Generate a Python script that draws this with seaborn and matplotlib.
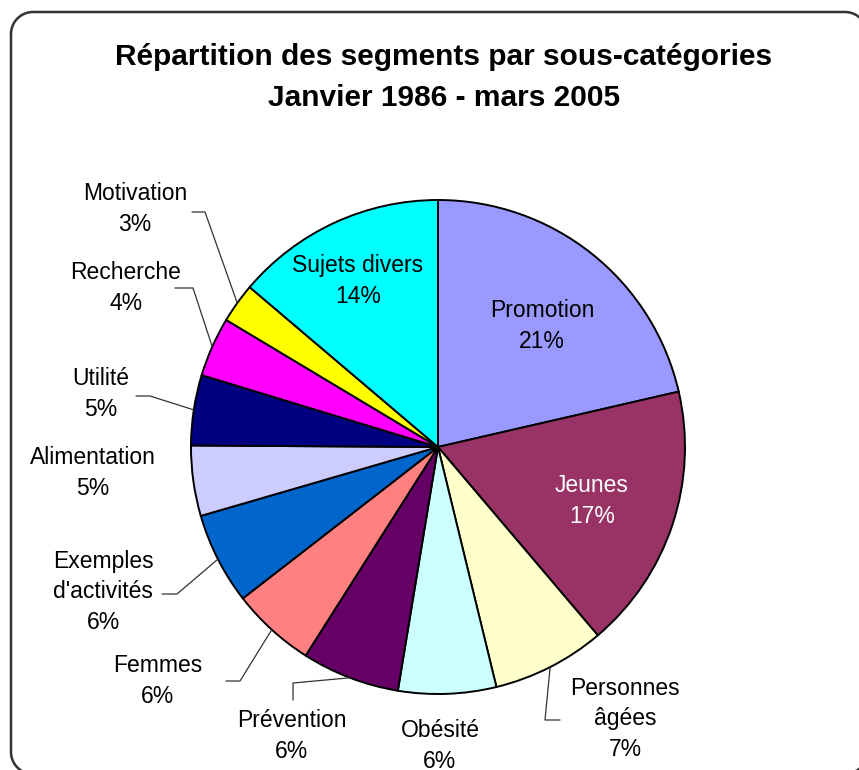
import numpy as np
import matplotlib
matplotlib.use("Agg")
import matplotlib.pyplot as plt
import seaborn as sns

# data (share of segments, %)
categories = ["Promotion", "Jeunes", "Personnes\nâgées", "Obésité", "Prévention",
              "Femmes", "Exemples\nd'activités", "Alimentation", "Utilité",
              "Recherche", "Motivation", "Sujets divers"]
shares = [21.4, 17.4, 7.4, 6.4, 6.4, 5.5, 6.0, 4.6, 4.6, 3.9, 2.6, 13.8]
slice_colors = ["#9999FF", "#993366", "#FFFFCC", "#CCFFFF", "#660066", "#FF8080",
                "#0066CC", "#CCCCFF", "#000080", "#FF00FF", "#FFFF00", "#00FFFF"]
title_lines = ["Répartition des segments par sous-catégories",
               "Janvier 1986 - mars 2005"]

W, H = 859, 770

# label layout in pixel coords (x, y from top): text centre, leader elbow, leader end
label_layout = [
    ((542, 326), None, None),
    ((592, 501), None, None),
    ((625, 719), (545, 720), (560, 720)),
    ((440, 746), None, None),
    ((292, 736), (293, 683), (293, 700)),
    ((158, 681), (240, 681), (226, 681)),
    ((103, 592), (177, 594), (162, 594)),
    ((93, 473), None, None),
    ((101, 394), (150, 396), (136, 396)),
    ((126, 288), (193, 288), (175, 288)),
    ((135, 209), (205, 212), (192, 212)),
    ((358, 281), None, None),
]
text_colors = ["black", "white"] + ["black"] * 10


def px(x, y):
    return x, H - y


def rounded_rect(x0, y0, x1, y1, r, n=20):
    # corners in pixel coords (y from top), clockwise from top-left
    pts = []
    corners = [(x0 + r, y0 + r, 180, 270), (x1 - r, y0 + r, 270, 360),
               (x1 - r, y1 - r, 0, 90), (x0 + r, y1 - r, 90, 180)]
    for ccx, ccy, a0, a1 in corners:
        a = np.deg2rad(np.linspace(a0, a1, n))
        pts += list(zip(ccx + r * np.cos(a), ccy + r * np.sin(a)))
    pts.append(pts[0])
    xs = [p[0] for p in pts]
    ys = [H - p[1] for p in pts]
    return xs, ys


sns.set_theme(style="white")
plt.rcParams["font.family"] = ["Liberation Sans", "DejaVu Sans"]
plt.rcParams["text.color"] = "black"

fig = plt.figure(figsize=(W / 100, H / 100), dpi=100)
ax = fig.add_axes([0, 0, 1, 1])

cx, cy = px(438, 447)
R = 247
palette = sns.color_palette(slice_colors)
wedges, _ = ax.pie(shares, colors=palette, startangle=90, counterclock=False,
                   center=(cx, cy), radius=R,
                   wedgeprops=dict(edgecolor="black", linewidth=1.4))

total = sum(shares)
for w, name, val, (pos, elbow, tail), tc in zip(wedges, categories, shares,
                                                label_layout, text_colors):
    label = f"{name}\n{val / total * 100:.0f}%"
    ax.text(*px(*pos), label, ha="center", va="center", fontsize=16.5,
            color=tc, linespacing=1.4)
    if elbow is not None:
        mid = np.deg2rad((w.theta1 + w.theta2) / 2)
        sx, sy = cx + R * np.cos(mid), cy + R * np.sin(mid)
        ex, ey = px(*elbow)
        tx, ty = px(*tail)
        ax.plot([sx, ex, tx], [sy, ey, ty], color="#333333", lw=0.9)

ax.text(*px(444, 57), title_lines[0], ha="center", va="center",
        fontsize=21.5, fontweight="bold", color="black")
ax.text(*px(444, 98), title_lines[1], ha="center", va="center",
        fontsize=21.5, fontweight="bold", color="black")

# rounded chart-area border (runs off the right/bottom edges)
bx, by = rounded_rect(11, 12, 867, 774, 22)
ax.plot(bx, by, color="#333333", lw=1.8, solid_joinstyle="round")

ax.set_xlim(0, W)
ax.set_ylim(0, H)
ax.set_aspect("equal")
ax.axis("off")

fig.savefig("out.png", dpi=100)
